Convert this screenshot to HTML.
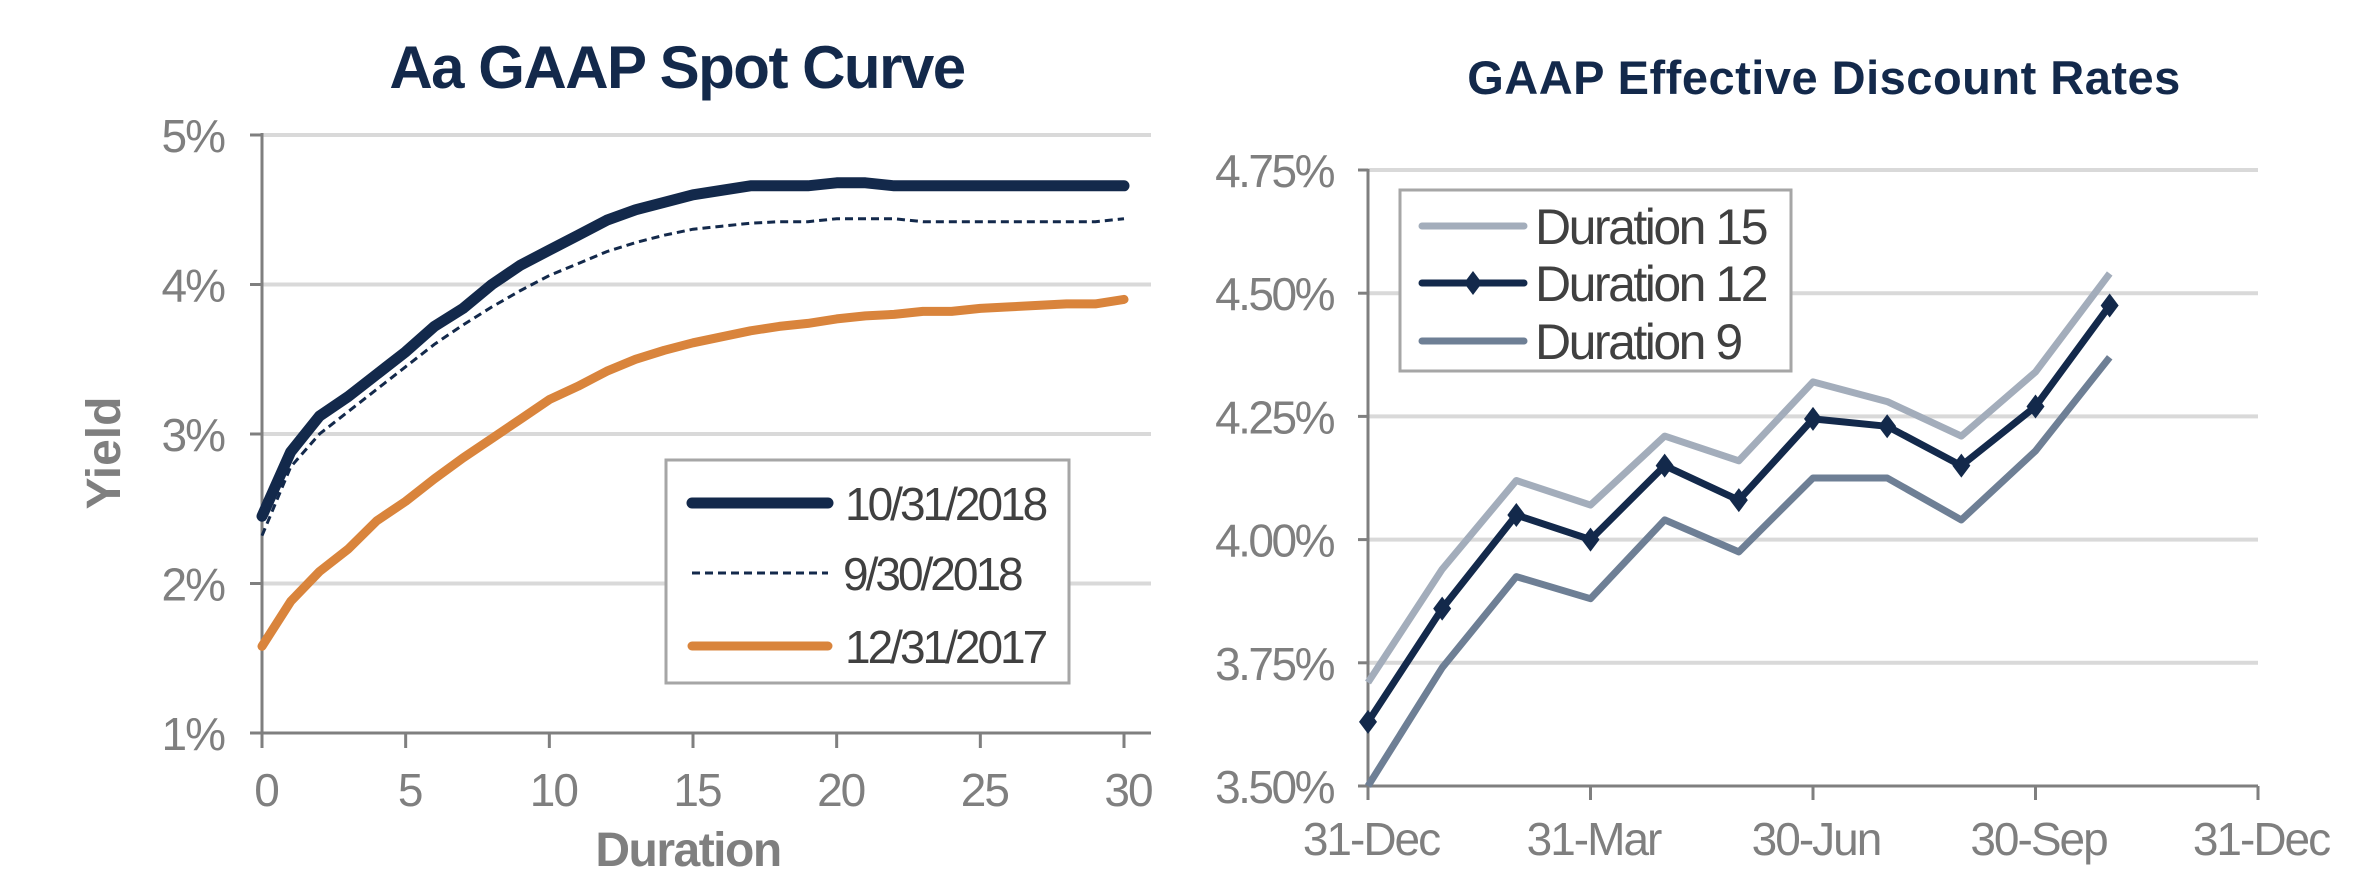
<!DOCTYPE html>
<html><head><meta charset="utf-8"><style>
html,body{margin:0;padding:0;background:#fff;}
svg{display:block;font-family:"Liberation Sans",Arial,sans-serif;}
</style></head><body>
<svg id="chart" width="2378" height="886" viewBox="0 0 2378 886" xmlns="http://www.w3.org/2000/svg">
<g id="left"></g>
<g id="right"></g>
</svg>
<script>
// ---- Left chart data ----
const durations = [0,1,2,3,4,5,6,7,8,9,10,11,12,13,14,15,16,17,18,19,20,21,22,23,24,25,26,27,28,29,30];
const yieldOct2018 = [2.45,2.88,3.12,3.25,3.40,3.55,3.72,3.84,4.00,4.13,4.23,4.33,4.43,4.50,4.55,4.60,4.63,4.66,4.66,4.66,4.68,4.68,4.66,4.66,4.66,4.66,4.66,4.66,4.66,4.66,4.66];
const yieldSep2018 = [2.32,2.78,3.00,3.15,3.30,3.45,3.60,3.73,3.85,3.96,4.06,4.14,4.22,4.28,4.33,4.37,4.39,4.41,4.42,4.42,4.44,4.44,4.44,4.42,4.42,4.42,4.42,4.42,4.42,4.42,4.44];
const yieldDec2017 = [1.58,1.88,2.08,2.23,2.42,2.55,2.70,2.84,2.97,3.10,3.23,3.32,3.42,3.50,3.56,3.61,3.65,3.69,3.72,3.74,3.77,3.79,3.80,3.82,3.82,3.84,3.85,3.86,3.87,3.87,3.90];
const leftYTicks = [1,2,3,4,5];
const leftXTicks = [0,5,10,15,20,25,30];
// ---- Right chart data ----
const months = [0,1,2,3,4,5,6,7,8,9,10];
const dur15 = [3.71,3.94,4.12,4.07,4.21,4.16,4.32,4.28,4.21,4.34,4.54];
const dur12 = [3.63,3.86,4.05,4.00,4.15,4.08,4.245,4.23,4.15,4.27,4.475];
const dur9 = [3.50,3.74,3.925,3.88,4.04,3.975,4.125,4.125,4.04,4.18,4.37];
const rightYTicks = [3.50,3.75,4.00,4.25,4.50,4.75];
const rightXTickPos = [0,3,6,9,12];
const rightXTickLabels = ["31-Dec","31-Mar","30-Jun","30-Sep","31-Dec"];

const NS="http://www.w3.org/2000/svg";
function mk(parent,tag,attrs,text){const e=document.createElementNS(NS,tag);for(const k in attrs)e.setAttribute(k,attrs[k]);if(text!==undefined)e.textContent=text;parent.appendChild(e);return e;}
const GRAY="#7f7f7f";
const FS=46;

// Left axes
const L=document.getElementById('left');
const lx=v=>262+(v-0)/30*862;
const ly=v=>733-(v-1)/4*598;
let t=mk(L,'text',{x:677,y:88,'font-size':60,'font-weight':'bold',fill:'#13294b','text-anchor':'middle','letter-spacing':'-1.5'},'Aa GAAP Spot Curve');


leftYTicks.forEach(v=>{
  if(v>1){const g=mk(L,'line',{x1:262,x2:1151,y1:ly(v),y2:ly(v),stroke:'#d9d9d9','stroke-width':4});
  
  }
  const tk=mk(L,'line',{x1:250,x2:262,y1:ly(v),y2:ly(v),stroke:GRAY,'stroke-width':3});
  
  
  const lb=mk(L,'text',{x:224,y:ly(v)+17,'font-size':FS,fill:GRAY,'text-anchor':'end','letter-spacing':'-2'},v+'%');
  
  
});
leftXTicks.forEach(v=>{
  const tk=mk(L,'line',{x1:lx(v),x2:lx(v),y1:733,y2:748,stroke:GRAY,'stroke-width':3});
  
  
  const lb=mk(L,'text',{x:lx(v)+4,y:806,'font-size':FS,fill:GRAY,'text-anchor':'middle','letter-spacing':'-2'},String(v));
  
  
});
let ax=mk(L,'line',{x1:262,x2:262,y1:133,y2:735,stroke:GRAY,'stroke-width':3});


ax=mk(L,'line',{x1:260,x2:1151,y1:733,y2:733,stroke:GRAY,'stroke-width':3});


t=mk(L,'text',{x:0,y:0,'font-size':48,'font-weight':'bold',fill:GRAY,'text-anchor':'middle',transform:'translate(120,453) rotate(-90)'},'Yield');


t=mk(L,'text',{x:688,y:866,'font-size':48,'font-weight':'bold',fill:GRAY,'text-anchor':'middle','letter-spacing':'-1.5'},'Duration');


function lpath(ys){return durations.map((d,i)=>(i?'L':'M')+lx(d).toFixed(1)+','+ly(ys[i]).toFixed(1)).join(' ');}
let p=mk(L,'path',{d:lpath(yieldDec2017),fill:'none',stroke:'#d9843c','stroke-width':9,'stroke-linejoin':'round','stroke-linecap':'round'});


p=mk(L,'path',{d:lpath(yieldSep2018),fill:'none',stroke:'#13294b','stroke-width':3,'stroke-dasharray':'8,5'});


p=mk(L,'path',{d:lpath(yieldOct2018),fill:'none',stroke:'#13294b','stroke-width':11,'stroke-linejoin':'round','stroke-linecap':'round'});


// left legend
const LL=mk(L,'g',{});


mk(LL,'rect',{x:666,y:460,width:403,height:223,fill:'#fff',stroke:'#a6a6a6','stroke-width':3});
[['10/31/2018','#13294b',11,null,503,845],['9/30/2018','#13294b',3,'8,5',573,843],['12/31/2017','#d9843c',9,null,646,845]].forEach(([lab,c,w,da,y,tx])=>{
  const g=mk(LL,'g',{});
  
  
  const a={x1:692,x2:828,y1:y,y2:y,stroke:c,'stroke-width':w,'stroke-linecap':da?'butt':'round'};
  if(da)a['stroke-dasharray']=da;
  mk(g,'line',a);
  mk(g,'text',{x:tx,y:y+17,'font-size':FS,fill:'#404040','letter-spacing':'-3'},lab);
});

// Right chart
const R=document.getElementById('right');
const rx=v=>1368+v/12*890;
const ry=v=>786-(v-3.5)/1.25*616;
t=mk(R,'text',{x:1824,y:94,'font-size':47,'font-weight':'bold',fill:'#13294b','text-anchor':'middle','letter-spacing':'0.5'},'GAAP Effective Discount Rates');


rightYTicks.forEach(v=>{
  if(v>3.5){const g=mk(R,'line',{x1:1368,x2:2258,y1:ry(v),y2:ry(v),stroke:'#d9d9d9','stroke-width':4});
  
  }
  const tk=mk(R,'line',{x1:1358,x2:1368,y1:ry(v),y2:ry(v),stroke:GRAY,'stroke-width':3});
  
  
  const lb=mk(R,'text',{x:1333,y:ry(v)+17,'font-size':FS,fill:GRAY,'text-anchor':'end','letter-spacing':'-2.5'},v.toFixed(2)+'%');
  
  
});
rightXTickPos.forEach((v,i)=>{
  const tk=mk(R,'line',{x1:rx(v),x2:rx(v),y1:786,y2:800,stroke:GRAY,'stroke-width':3});
  
  
  const lb=mk(R,'text',{x:rx(v)+3,y:855,'font-size':FS,fill:GRAY,'text-anchor':'middle','letter-spacing':'-2'},rightXTickLabels[i]);
  
  
});
ax=mk(R,'line',{x1:1368,x2:1368,y1:169,y2:788,stroke:GRAY,'stroke-width':3});


ax=mk(R,'line',{x1:1366,x2:2258,y1:786,y2:786,stroke:GRAY,'stroke-width':3});


function rpath(ys){return months.map((m,i)=>(i?'L':'M')+rx(m).toFixed(1)+','+ry(ys[i]).toFixed(1)).join(' ');}
p=mk(R,'path',{d:rpath(dur15),fill:'none',stroke:'#a3adbb','stroke-width':7,'stroke-linejoin':'round'});


p=mk(R,'path',{d:rpath(dur9),fill:'none',stroke:'#6e7f95','stroke-width':7,'stroke-linejoin':'round'});


p=mk(R,'path',{d:rpath(dur12),fill:'none',stroke:'#13294b','stroke-width':7,'stroke-linejoin':'round'});


months.forEach((m,i)=>{
  const x=rx(m),y=ry(dur12[i]);
  const d=mk(R,'path',{d:`M${x},${y-12} L${x+9},${y} L${x},${y+12} L${x-9},${y} Z`,fill:'#13294b'});
  
  
});
const RL=mk(R,'g',{});


mk(RL,'rect',{x:1400,y:190,width:391,height:181,fill:'#fff',stroke:'#a6a6a6','stroke-width':3});
[['Duration 15','#a3adbb',226,false],['Duration 12','#13294b',283,true],['Duration 9','#6e7f95',341,false]].forEach(([lab,c,y,mark])=>{
  const g=mk(RL,'g',{});
  
  
  mk(g,'line',{x1:1422,x2:1524,y1:y,y2:y,stroke:c,'stroke-width':7,'stroke-linecap':'round'});
  if(mark)mk(g,'path',{d:`M1473,${y-12} L1482,${y} L1473,${y+12} L1464,${y} Z`,fill:c});
  mk(g,'text',{x:1535,y:y+18,'font-size':50,fill:'#404040','letter-spacing':'-2.5'},lab);
});
</script>
</body></html>
